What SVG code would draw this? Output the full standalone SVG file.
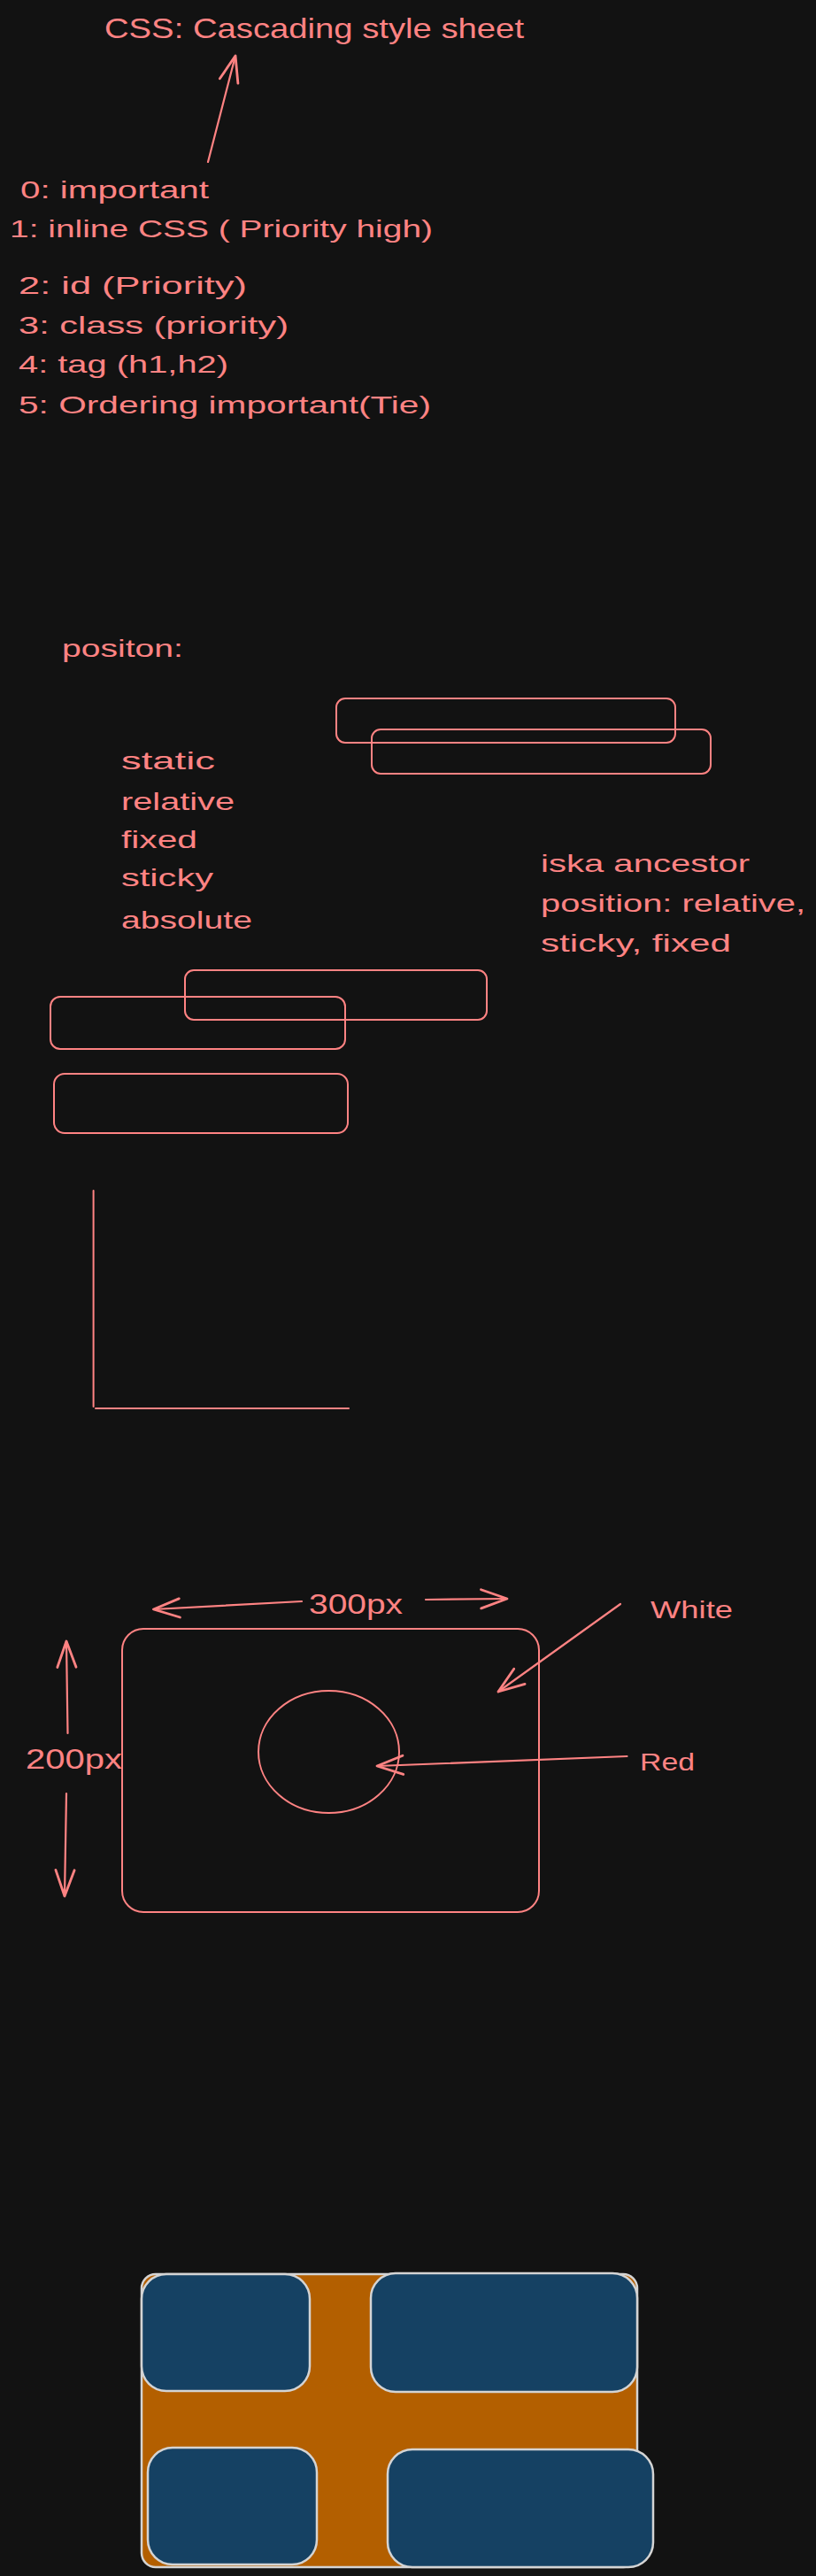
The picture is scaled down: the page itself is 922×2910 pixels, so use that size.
<svg xmlns="http://www.w3.org/2000/svg" width="922" height="2910" viewBox="0 0 922 2910">
<defs>
<style>
.t{font-family:"Liberation Sans","Noto Sans",sans-serif;fill:#ff8383;font-size:28px}
.big{font-size:32px}
.s{fill:none;stroke:#ff8383;stroke-width:2;stroke-linecap:round;stroke-linejoin:round}
.a{fill:none;stroke:#ff8383;stroke-width:2.2;stroke-linecap:round;stroke-linejoin:round}
.box{fill:#154163;stroke:#d4d4d4;stroke-width:2.5}
</style>
<marker id="ah" markerUnits="userSpaceOnUse" markerWidth="40" markerHeight="40" viewBox="-30 -15 34 30" refX="0" refY="0" orient="auto">
<path d="M-25,-9 L0,0 L-25,9" fill="none" stroke="#ff8383" stroke-width="2.4" stroke-linecap="round" stroke-linejoin="round"/>
</marker>
</defs>
<rect width="922" height="2910" fill="#121212"/>

<g id="title"><text class="t big" x="118" y="43" textLength="474" lengthAdjust="spacingAndGlyphs">CSS: Cascading style sheet</text></g>

<g id="priority-list">
<text class="t" x="23" y="224" textLength="213" lengthAdjust="spacingAndGlyphs">0: important</text>
<text class="t" x="11" y="268" textLength="478" lengthAdjust="spacingAndGlyphs">1: inline CSS ( Priority high)</text>
<text class="t" x="21" y="332" textLength="258" lengthAdjust="spacingAndGlyphs">2: id (Priority)</text>
<text class="t" x="21" y="377" textLength="305" lengthAdjust="spacingAndGlyphs">3: class (priority)</text>
<text class="t" x="21" y="421" textLength="237" lengthAdjust="spacingAndGlyphs">4: tag (h1,h2)</text>
<text class="t" x="21" y="467" textLength="466" lengthAdjust="spacingAndGlyphs">5: Ordering important(Tie)</text>
</g>

<g id="position-label"><text class="t" x="70" y="742" textLength="137" lengthAdjust="spacingAndGlyphs">positon:</text></g>

<g id="position-values">
<text class="t" x="137" y="869" textLength="106" lengthAdjust="spacingAndGlyphs">static</text>
<text class="t" x="137" y="915" textLength="128" lengthAdjust="spacingAndGlyphs">relative</text>
<text class="t" x="137" y="958" textLength="86" lengthAdjust="spacingAndGlyphs">fixed</text>
<text class="t" x="137" y="1001" textLength="104" lengthAdjust="spacingAndGlyphs">sticky</text>
<text class="t" x="137" y="1049" textLength="148" lengthAdjust="spacingAndGlyphs">absolute</text>
</g>

<g id="ancestor-note">
<text class="t" x="611" y="985" textLength="236" lengthAdjust="spacingAndGlyphs">iska ancestor</text>
<text class="t" x="611" y="1030" textLength="299" lengthAdjust="spacingAndGlyphs">position: relative,</text>
<text class="t" x="611" y="1075" textLength="215" lengthAdjust="spacingAndGlyphs">sticky, fixed</text>
</g>

<g id="rect-top-1"><rect class="s" x="380" y="789" width="383" height="50" rx="10"/></g>
<g id="rect-top-2"><rect class="s" x="420" y="824" width="383" height="50" rx="10"/></g>
<g id="rect-mid-right"><rect class="s" x="209" y="1096" width="341" height="56" rx="10"/></g>
<g id="rect-mid-left"><rect class="s" x="57" y="1126" width="333" height="59" rx="11"/></g>
<g id="rect-low"><rect class="s" x="61" y="1213" width="332" height="67" rx="12"/></g>

<g id="axes"><path class="s" d="M105.6,1345 L105.6,1589 M108,1591 L394,1591" stroke-width="2.4"/></g>

<g id="outer-box"><rect class="s" x="138" y="1840" width="471" height="320" rx="24"/></g>
<g id="circle"><ellipse class="s" cx="371.5" cy="1979" rx="79.5" ry="69"/></g>

<g id="label-300px"><text class="t big" x="349" y="1823" textLength="106" lengthAdjust="spacingAndGlyphs">300px</text></g>
<g id="label-200px"><text class="t big" x="29" y="1998" textLength="109" lengthAdjust="spacingAndGlyphs">200px</text></g>
<g id="label-white"><text class="t" x="735" y="1828" textLength="93" lengthAdjust="spacingAndGlyphs">White</text></g>
<g id="label-red"><text class="t" x="723" y="2000" textLength="62" lengthAdjust="spacingAndGlyphs">Red</text></g>

<g id="layout-container"><rect x="160" y="2569" width="560" height="331" rx="16" fill="#b35f00" stroke="#d4d4d4" stroke-width="2.5"/></g>
<g id="cell-1"><rect class="box" x="160" y="2569" width="190" height="132" rx="28"/></g>
<g id="cell-2"><rect class="box" x="419" y="2568" width="301" height="134" rx="28"/></g>
<g id="cell-3"><rect class="box" x="167" y="2765" width="191" height="132" rx="28"/></g>
<g id="cell-4"><rect class="box" x="438" y="2767" width="300" height="133" rx="28"/></g>

<g id="connectors">
<path class="a" d="M235,183 L266,63" marker-end="url(#ah)"/>
<path class="a" d="M341,1809 L173.5,1818" stroke-width="3" marker-end="url(#ah)"/>
<path class="a" d="M481,1807 L573,1806" stroke-width="3" marker-end="url(#ah)"/>
<path class="a" d="M701,1812 L563,1911" marker-end="url(#ah)"/>
<path class="a" d="M708.5,1984 L426,1995" stroke-width="3" marker-end="url(#ah)"/>
<path class="a" d="M76.5,1958 L75,1854" marker-end="url(#ah)"/>
<path class="a" d="M75,2026 L73,2142" marker-end="url(#ah)"/>
</g>
</svg>
